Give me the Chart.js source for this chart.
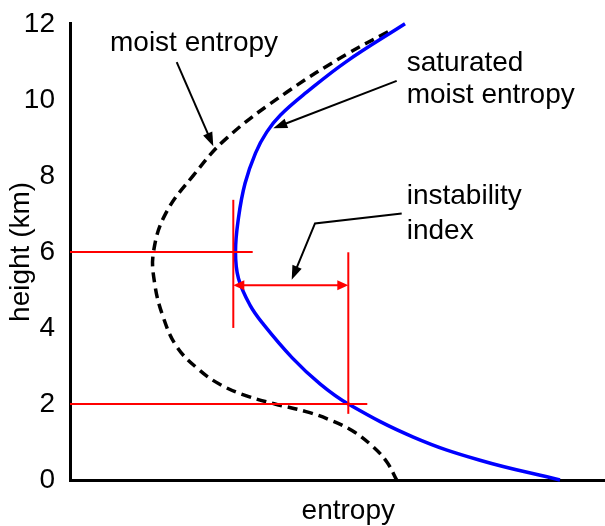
<!DOCTYPE html>
<html>
<head>
<meta charset="utf-8">
<script src="https://cdn.jsdelivr.net/npm/chart.js@4.4.1/dist/chart.umd.min.js"></script>
<style>
  html, body { margin: 0; padding: 0; background: #fff; }
  #wrap { width: 605px; height: 526px; }
</style>
</head>
<body>
<div id="wrap"><canvas id="myChart"></canvas></div>
<script>
// values: height in km, entropy in arbitrary units
const yTicks = [0, 2, 4, 6, 8, 10, 12];

const satEntropy = [335, 276, 236.7, 210.5, 196.7, 185.5, 175, 168.5, 165.5, 168.5, 180, 193.3, 222, 250, 278.3, 343.3, 410, 490];
const satHeight  = [12, 11.0, 10.2, 9.6, 9.15, 8.6, 7.8, 6.9, 6.0, 5.3, 4.6, 4.1, 3.22, 2.53, 2.0, 1.13, 0.52, 0];

const moistEntropy = [318, 276.7, 216.7, 157, 123, 95.5, 83.5, 84.5, 93, 107, 129, 151, 178, 205, 236, 258, 282, 302, 316.7, 326.7];
const moistHeight  = [11.79, 11.2, 10.2, 9.0, 8.0, 7.0, 6.0, 5.2, 4.3, 3.5, 2.9, 2.5, 2.2, 2.0, 1.8, 1.6, 1.3, 0.9, 0.48, 0];

// red guide lines
const upperLevel = 6, lowerLevel = 2;
const upperLineEnd = 182.7, lowerLineEnd = 297.3;
const minSatEntropy = 163.3, surfaceSatEntropy = 278.3;
const leftTickSpan = [4.0, 7.37];
const rightTickSpan = [1.74, 5.99];
const gapLevel = 5.12;

const toPts = (xs, ys) => xs.map((x, i) => ({x: x, y: ys[i]}));

// labels and pointer arrows, placed in data units
const labels = [
  {text: 'moist entropy', x: 40, y: 11.29},
  {text: 'saturated', x: 336.7, y: 10.75},
  {text: 'moist entropy', x: 336.7, y: 9.92},
  {text: 'instability', x: 336.7, y: 7.27},
  {text: 'index', x: 336.7, y: 6.35},
  {text: 'entropy', x: 278.3, y: -1.02, align: 'center'}
];
const pointers = [
  [[106.7, 10.99], [143.3, 8.78]],
  [[326.7, 10.50], [203.3, 9.25]],
  [[331.7, 7.01], [245, 6.75], [221.7, 5.27]]
];

const FONT = "'Liberation Sans', Arial, Helvetica, sans-serif";

function arrowHead(ctx, x1, y1, x2, y2, len, half, color) {
  const a = Math.atan2(y2 - y1, x2 - x1);
  ctx.fillStyle = color;
  ctx.beginPath();
  ctx.moveTo(x2, y2);
  ctx.lineTo(x2 - len * Math.cos(a) + half * Math.sin(a), y2 - len * Math.sin(a) - half * Math.cos(a));
  ctx.lineTo(x2 - len * Math.cos(a) - half * Math.sin(a), y2 - len * Math.sin(a) + half * Math.cos(a));
  ctx.closePath();
  ctx.fill();
}

const annotate = {
  id: 'annotate',
  afterDatasetsDraw(chart) {
    const {ctx, scales: {x, y}} = chart;
    ctx.save();
    ctx.font = '28px ' + FONT;
    ctx.fillStyle = '#000';
    ctx.textBaseline = 'alphabetic';
    for (const l of labels) {
      ctx.textAlign = l.align || 'left';
      ctx.fillText(l.text, x.getPixelForValue(l.x), y.getPixelForValue(l.y));
    }

    // black pointers
    ctx.strokeStyle = '#000';
    ctx.lineWidth = 2;
    for (const p of pointers) {
      const px = p.map(q => [x.getPixelForValue(q[0]), y.getPixelForValue(q[1])]);
      const n = px.length;
      const a = Math.atan2(px[n-1][1] - px[n-2][1], px[n-1][0] - px[n-2][0]);
      ctx.beginPath();
      ctx.moveTo(px[0][0], px[0][1]);
      for (let i = 1; i < n - 1; i++) ctx.lineTo(px[i][0], px[i][1]);
      ctx.lineTo(px[n-1][0] - 8 * Math.cos(a), px[n-1][1] - 8 * Math.sin(a));
      ctx.stroke();
      arrowHead(ctx, px[n-2][0], px[n-2][1], px[n-1][0], px[n-1][1], 14, 5, '#000');
    }

    // red double arrow
    const yy = y.getPixelForValue(gapLevel);
    const xa = x.getPixelForValue(minSatEntropy), xb = x.getPixelForValue(surfaceSatEntropy);
    ctx.strokeStyle = '#ff0000';
    ctx.lineWidth = 2;
    ctx.beginPath();
    ctx.moveTo(xa + 8, yy);
    ctx.lineTo(xb - 8, yy);
    ctx.stroke();
    arrowHead(ctx, xb, yy, xa, yy, 11, 5, '#ff0000');
    arrowHead(ctx, xa, yy, xb, yy, 11, 5, '#ff0000');
    ctx.restore();
  }
};

const redLine = (pts) => ({
  data: pts, borderColor: '#ff0000', borderWidth: 2, pointRadius: 0,
  showLine: true, tension: 0, clip: false, order: 0
});

const chart = new Chart('myChart', {
  type: 'scatter',
  data: {
    datasets: [
      redLine([{x: 0, y: upperLevel}, {x: upperLineEnd, y: upperLevel}]),
      redLine([{x: 0, y: lowerLevel}, {x: lowerLineEnd, y: lowerLevel}]),
      redLine([{x: minSatEntropy, y: leftTickSpan[0]}, {x: minSatEntropy, y: leftTickSpan[1]}]),
      redLine([{x: surfaceSatEntropy, y: rightTickSpan[0]}, {x: surfaceSatEntropy, y: rightTickSpan[1]}]),
      {
        label: 'saturated moist entropy',
        data: toPts(satEntropy, satHeight),
        borderColor: '#0000ff', borderWidth: 3.5, pointRadius: 0,
        showLine: true, tension: 0.4, clip: false, order: 1
      },
      {
        label: 'moist entropy',
        data: toPts(moistEntropy, moistHeight),
        borderColor: '#000', borderWidth: 3.5, borderDash: [10, 6], pointRadius: 0,
        showLine: true, tension: 0.4, clip: false, order: 2
      }
    ]
  },
  options: {
    responsive: true,
    maintainAspectRatio: false,
    animation: false,
    layout: {padding: {top: 21, right: 0, bottom: 0, left: 0}},
    plugins: {legend: {display: false}, tooltip: {enabled: false}},
    scales: {
      x: {
        type: 'linear', min: 0, max: 535,
        grid: {display: false},
        border: {display: true, color: '#000', width: 3},
        ticks: {display: false},
        afterFit: s => { s.height = 46; }
      },
      y: {
        type: 'linear', min: 0, max: 12,
        grid: {display: false},
        border: {display: true, color: '#000', width: 3},
        ticks: {color: '#000', padding: 7, font: {family: FONT, size: 28}},
        afterBuildTicks: s => { s.ticks = yTicks.map(v => ({value: v})); },
        title: {display: true, text: 'height (km)', color: '#000', padding: {top: 4, bottom: 0}, font: {family: FONT, size: 28}},
        afterFit: s => { s.width = 70; }
      }
    }
  },
  plugins: [annotate]
});
</script>
</body>
</html>
